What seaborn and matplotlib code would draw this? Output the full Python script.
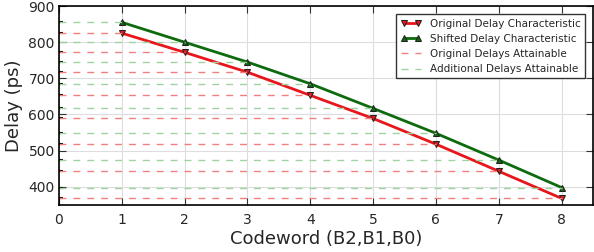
import numpy as np
import pandas as pd
import matplotlib
matplotlib.use("Agg")
import matplotlib.pyplot as plt
import seaborn as sns

codewords = [1, 2, 3, 4, 5, 6, 7, 8]
original_delay = [825, 772, 717, 653, 589, 518, 443, 368]
shifted_delay = [855, 800, 745, 685, 617, 548, 474, 398]

sns.set_style("whitegrid", {"axes.edgecolor": "black", "grid.color": "#dddddd",
                            "xtick.direction": "in", "ytick.direction": "in"})
plt.rcParams["font.family"] = ["DejaVu Sans"]

df = pd.DataFrame({
    "Codeword": codewords * 2,
    "Delay": original_delay + shifted_delay,
    "Series": ["Original Delay Characteristic"] * 8 + ["Shifted Delay Characteristic"] * 8,
})

fig = plt.figure(figsize=(5.94, 2.52), dpi=100)
ax = fig.add_axes([0.0993, 0.187, 0.899, 0.789])

sns.lineplot(data=df, x="Codeword", y="Delay", hue="Series", style="Series",
             palette=["#e8151b", "#0d6b0d"], markers=["v", "^"], dashes=False,
             linewidth=2, markersize=5, markeredgecolor="#222222", ax=ax)

ax.hlines(original_delay, 0, codewords, colors="#f08080", linestyles=(0, (5, 5)),
          linewidth=1, label="Original Delays Attainable")
ax.hlines(shifted_delay, 0, codewords, colors="#9fd39f", linestyles=(0, (5, 5)),
          linewidth=1, label="Additional Delays Attainable")

ax.set_xlim(0, 8.5)
ax.set_ylim(350, 900)
ax.set_xticks(range(0, 9))
ax.set_yticks([400, 500, 600, 700, 800, 900])
ax.set_yticks(original_delay + shifted_delay, minor=True)
ax.tick_params(axis="y", which="minor", length=3, width=1.5, color="black", left=True, right=False)
ax.tick_params(axis="both", which="major", labelsize=10, length=5, color="#333333",
               left=True, bottom=True, right=True, top=True)
ax.tick_params(axis="x", which="major", pad=6)
ax.tick_params(axis="y", which="major", pad=3)
for s in ax.spines.values():
    s.set_linewidth(1.2)
ax.grid(True, which="major", color="#dddddd", linewidth=0.8)
ax.grid(False, which="minor")

ax.set_xlabel("Codeword (B2,B1,B0)", fontsize=13, labelpad=2)
ax.set_ylabel("Delay (ps)", fontsize=13, labelpad=4)

leg = ax.legend(loc="upper right", fontsize=7.5, fancybox=False, framealpha=1,
                edgecolor="#333333", borderaxespad=0.8, handlelength=2, numpoints=2)
leg.get_frame().set_linewidth(1)

fig.savefig("out.png", dpi=100)
